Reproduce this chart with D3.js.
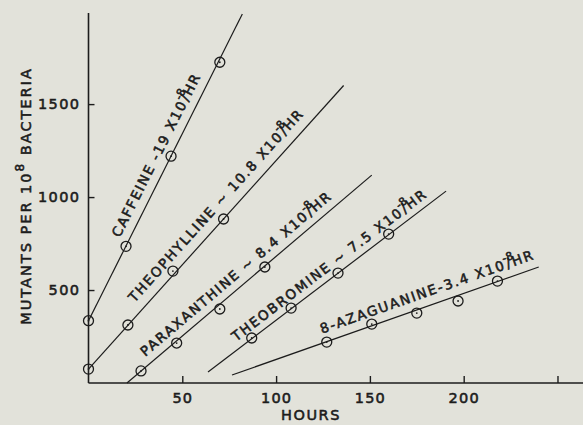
<!DOCTYPE html>
<html>
<head>
<meta charset="utf-8">
<script src="https://cdn.jsdelivr.net/npm/d3@7/dist/d3.min.js"></script>
<style>
  html, body { margin: 0; padding: 0; background: #e2e2da; }
  svg { display: block; }
  text { font-family: "DejaVu Sans", sans-serif; fill: #1c1c1c; stroke: #1c1c1c; stroke-width: 0.55px; }
</style>
</head>
<body>
<svg id="chart" width="583" height="425"></svg>
<script>
// ---- data ----
const seriesNames = ["Caffeine", "Theophylline", "Paraxanthine", "Theobromine", "8-Azaguanine"];
const labelMain = ["CAFFEINE -19 X10", "THEOPHYLLINE ~ 10.8 X10", "PARAXANTHINE ~ 8.4 X10", "THEOBROMINE ~ 7.5 X10", "8-AZAGUANINE-3.4 X10"];
const labelExp = "-8";
const labelUnit = "/HR";

const caffeineHours = [0, 20, 44, 70];
const caffeineMutants = [335, 735, 1220, 1725];
const theophyllineHours = [0, 21, 45, 72];
const theophyllineMutants = [75, 312, 602, 882];
const paraxanthineHours = [28, 47, 70, 94];
const paraxanthineMutants = [65, 215, 398, 624];
const theobromineHours = [87, 108, 133, 160];
const theobromineMutants = [242, 403, 591, 801];
const azaguanineHours = [127, 151, 175, 197, 218];
const azaguanineMutants = [220, 317, 376, 441, 548];

// fitted lines: [startHour, startMutants, endHour, endMutants]
const caffeineLine = [0, 335, 82, 1985];
const theophyllineLine = [0, 75, 136, 1600];
const paraxanthineLine = [20.5, 0, 151, 1118];
const theobromineLine = [63.7, 59, 190.6, 1032];
const azaguanineLine = [76.5, 43, 240, 624];

// hour along each line where its label starts
const labelStartHour = [21, 28.5, 33, 81, 126];

const xTicks = [50, 100, 150, 200, 250];
const xTickLabels = ["50", "100", "150", "200", ""];
const yTicks = [500, 1000, 1500];
const yTickLabels = ["500", "1000", "1500"];
const xTitle = "HOURS";

// ---- layout ----
const ink = "#1c1c1c";
const svg = d3.select("#chart");
const x = d3.scaleLinear().domain([0, 263.6]).range([88.5, 583]);
const y = d3.scaleLinear().domain([0, 1990]).range([383, 13]);

const hours = [caffeineHours, theophyllineHours, paraxanthineHours, theobromineHours, azaguanineHours];
const mutants = [caffeineMutants, theophyllineMutants, paraxanthineMutants, theobromineMutants, azaguanineMutants];
const lines = [caffeineLine, theophyllineLine, paraxanthineLine, theobromineLine, azaguanineLine];
const labelOffset = [9, 10, 8, 7, 9];

// axes
const xAxis = d3.axisBottom(x).tickValues(xTicks).tickSize(-7).tickPadding(10)
  .tickFormat((d, i) => xTickLabels[i]);
const gx = svg.append("g").attr("transform", `translate(0,${y(0)})`).call(xAxis);
gx.select(".domain").attr("d", `M${x(0)},0H583`).attr("stroke", ink).attr("stroke-width", 1.6);
gx.selectAll(".tick line").attr("stroke", ink).attr("stroke-width", 1.4);
gx.selectAll(".tick text").attr("fill", ink).style("font-size", "14.5px").style("letter-spacing", "1.2px")
  .style("font-family", "DejaVu Sans, sans-serif");

const yAxis = d3.axisLeft(y).tickValues(yTicks).tickSize(-6).tickPadding(8)
  .tickFormat((d, i) => yTickLabels[i]);
const gy = svg.append("g").attr("transform", `translate(${x(0)},0)`).call(yAxis);
gy.select(".domain").attr("d", `M0,${y(0)}V${y(1990)}`).attr("stroke", ink).attr("stroke-width", 1.6);
gy.selectAll(".tick line").attr("stroke", ink).attr("stroke-width", 1.4);
gy.selectAll(".tick text").attr("fill", ink).style("font-size", "14.5px").style("letter-spacing", "1.4px")
  .style("font-family", "DejaVu Sans, sans-serif");

// axis titles
svg.append("text").attr("x", (x(100) + x(150)) / 2 - 12).attr("y", 420)
  .attr("text-anchor", "middle").style("font-size", "14.5px").style("letter-spacing", "1.6px")
  .text(xTitle);

const yt = svg.append("text").attr("transform", `translate(31,196) rotate(-90)`)
  .attr("text-anchor", "middle").style("font-size", "14.5px").style("letter-spacing", "2px");
yt.append("tspan").text("MUTANTS PER 10");
yt.append("tspan").attr("dy", -7).style("font-size", "12px").text("8");
yt.append("tspan").attr("dy", 7).text(" BACTERIA");

// lines, points, labels
seriesNames.forEach((name, i) => {
  const L = lines[i];
  const g = svg.append("g");
  g.append("line")
    .attr("x1", x(L[0])).attr("y1", y(L[1]))
    .attr("x2", x(L[2])).attr("y2", y(L[3]))
    .attr("stroke", ink).attr("stroke-width", 1.2);
  const pts = hours[i].map((h, j) => [h, mutants[i][j]]);
  g.selectAll("circle.pt").data(pts).join("circle").attr("class", "pt")
    .attr("cx", d => x(d[0])).attr("cy", d => y(d[1])).attr("r", 5)
    .attr("fill", "none").attr("stroke", ink).attr("stroke-width", 1.3);
  g.selectAll("circle.dot").data(pts).join("circle").attr("class", "dot")
    .attr("cx", d => x(d[0])).attr("cy", d => y(d[1])).attr("r", 0.9)
    .attr("fill", ink);

  // label along the line
  const slope = (L[3] - L[1]) / (L[2] - L[0]);
  const hs = labelStartHour[i];
  const px = x(hs), py = y(L[1] + slope * (hs - L[0]));
  const ang = Math.atan2(y(L[3]) - y(L[1]), x(L[2]) - x(L[0])) * 180 / Math.PI;
  const t = g.append("text")
    .attr("transform", `translate(${px},${py}) rotate(${ang}) translate(0,${-labelOffset[i]})`)
    .style("font-size", "13.5px").style("letter-spacing", "1.8px");
  t.append("tspan").text(labelMain[i]);
  t.append("tspan").attr("dy", -7).attr("dx", -1).style("font-size", "11px").style("letter-spacing", "0px").text(labelExp);
  t.append("tspan").attr("dy", 7).attr("dx", -9).text(labelUnit);
});
</script>
</body>
</html>
